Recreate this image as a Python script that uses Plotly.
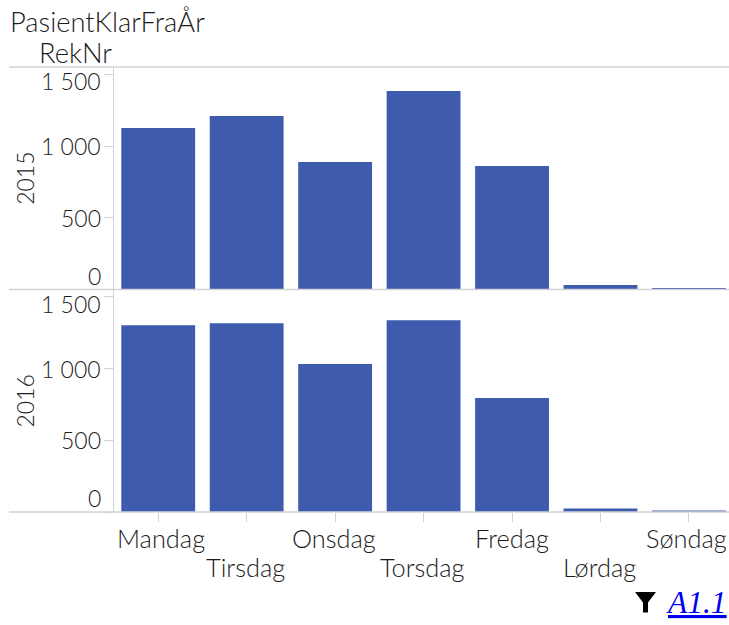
import plotly.graph_objects as go

days = ["Mandag", "Tirsdag", "Onsdag", "Torsdag", "Fredag", "Lørdag", "Søndag"]
values_2015 = [1127, 1210, 890, 1385, 862, 31, 10]
values_2016 = [1303, 1317, 1032, 1338, 796, 24, 10]
y_ticks = [0, 500, 1000, 1500]
y_labels = ["0", "500", "1 000", "1 500"]
y_label_shift = [14, 0, 0, -7]
day_label_shift = [3, -1, -1, -1, 0, -1, -2]

W, H = 729, 625
L, T, B = 114, 67, 112.5
FONT = "Lato, 'Noto Sans', sans-serif"
TXT = "#1c1c1c"
GRID = "#d3d3d3"
BAR = "#3f5bae"
plot_h = H - T - B


def xp(x):
    return (x - L) / (W - L)


def yp(y):
    return 1 - (y - T) / plot_h


fig = go.Figure()
fig.add_bar(x=days, y=values_2015, xaxis="x", yaxis="y", marker=dict(color=BAR, line=dict(width=0)))
fig.add_bar(x=days, y=values_2016, xaxis="x2", yaxis="y2", marker=dict(color=BAR, line=dict(width=0)))


def yax(domain, anchor):
    return dict(domain=domain, anchor=anchor, range=[0, 1552], tickvals=y_ticks, showticklabels=False,
                ticks="outside", ticklen=9, tickcolor=GRID, tickwidth=1, showgrid=False, zeroline=False,
                showline=True, linecolor=GRID, linewidth=1)


def xax(anchor, show):
    return dict(anchor=anchor, domain=[0, 1], range=[-0.5, 6.453], categoryorder="array", categoryarray=days,
                showgrid=False, zeroline=False, showline=False, showticklabels=False,
                ticks="outside" if show else "", ticklen=9, tickcolor=GRID, tickwidth=1,
                tickmode="array", tickvals=days)


def label(text, x, y, size=26, anchor="center", **kw):
    return dict(xref="paper", yref="paper", x=xp(x), y=yp(y), text=text, showarrow=False, xanchor=anchor,
                yanchor="middle", font=dict(family=FONT, size=size, color=TXT, weight=300), **kw)


annotations = []
for ref, year, mid in (("y", "2015", 179), ("y2", "2016", 402)):
    for v, lab, shift in zip(y_ticks, y_labels, y_label_shift):
        annotations.append(dict(xref="paper", yref=ref, x=xp(103), y=v, text=lab, showarrow=False, xanchor="right",
                                yanchor="middle", yshift=shift, font=dict(family=FONT, size=23, color=TXT, weight=300)))
    annotations.append(label(year, 25, mid, size=23, textangle=-90))

for i, d in enumerate(days):
    annotations.append(dict(xref="x2", yref="paper", x=d, y=yp(568 if i % 2 else 539), text=d, showarrow=False,
                            xanchor="center", yanchor="middle", xshift=day_label_shift[i],
                            font=dict(family=FONT, size=25.4, color=TXT, weight=300)))

annotations += [
    label("PasientKlarFraÅr", 8, 21, size=27.3, anchor="left"),
    label("RekNr", 114, 52, size=27.3, anchor="right"),
    dict(xref="paper", yref="paper", x=xp(728.5), y=yp(603),
         text="<a href='#' style='color:#0000ee'><i><u>A1.1</u></i></a>", showarrow=False,
         xanchor="right", yanchor="middle", font=dict(family="Liberation Serif", size=31.5, color="#0000ee")),
]

shapes = [dict(type="line", xref="paper", yref="paper", x0=xp(9), x1=1, y0=yp(y), y1=yp(y),
               line=dict(color=GRID, width=1.5), layer="above") for y in (67, 289.7, 512.5)]
funnel = [(635, 592.5), (656, 592.5), (648, 603), (648, 613), (643, 613), (643, 603)]
path = "M " + " L ".join(f"{xp(a):.5f} {yp(b):.5f}" for a, b in funnel) + " Z"
shapes.append(dict(type="path", xref="paper", yref="paper", path=path, fillcolor="#000000", line=dict(width=0)))

fig.update_layout(
    width=W, height=H, margin=dict(l=L, r=0, t=T, b=B, pad=0, autoexpand=False),
    paper_bgcolor="white", plot_bgcolor="white", showlegend=False, bargap=0.165,
    xaxis=xax("y", False), xaxis2=xax("y2", True),
    yaxis=yax([0.5, 1], "x"), yaxis2=yax([0, 0.5], "x2"),
    annotations=annotations, shapes=shapes,
)
fig.write_html("out.html", config=dict(displayModeBar=False),
               post_script="document.body.style.margin='0';document.body.style.overflow='hidden';")
